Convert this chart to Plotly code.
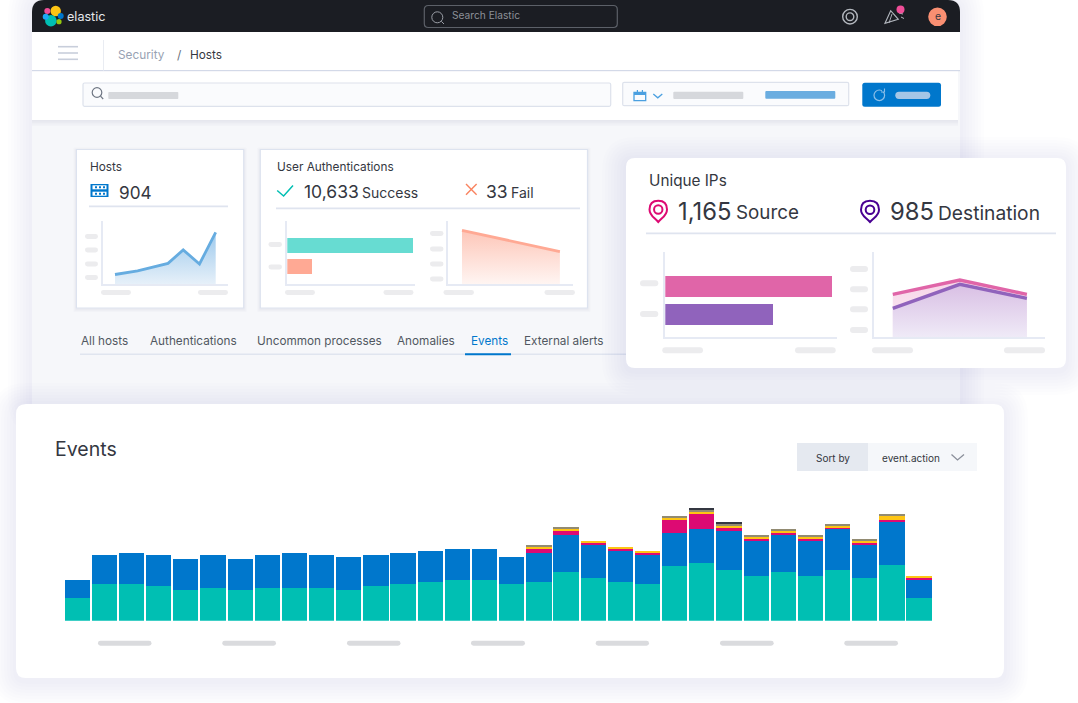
import plotly.graph_objects as go

W, H = 1078, 703
FONT = "Inter, Roboto, sans-serif"
DARK = "#343741"
AXIS = "#e6eaf4"

# ---- Events chart data (stack segments) ----
event_bins = list(range(32))
events_teal = [23, 36.7, 36.7, 34.7, 31, 33, 31, 33, 33, 33, 31, 34.7, 36.7, 38.7, 40.7, 40.7,
               36.7, 38.7, 48.3, 42.7, 38.7, 36.7, 54.3, 58, 50.3, 44.7, 48.3, 44.7, 50.3, 42.7, 56, 23]
events_blue = [17.7, 29.3, 31, 31.3, 31, 33, 31, 33, 34.7, 33, 33, 31.3, 31, 31, 31, 31,
               27.3, 29, 37, 33, 31, 29, 33, 33.3, 39, 35, 37, 35, 41, 33, 43, 17.7]
events_pink = [0]*17 + [4, 4, 2, 2, 2, 13.3, 15.3, 3.7, 2, 2, 2, 1.7, 2, 2, 2]
events_orange = [0]*17 + [2, 2, 2, 2, 2, 2, 2, 2, 2, 2, 2, 2, 2, 4, 2]
events_tan = [0]*17 + [2, 2, 0, 0, 0, 2, 2, 2, 1.7, 2, 1.7, 2, 2, 2, 0]
events_dark = [0]*23 + [2, 2, 0, 0, 0, 0, 0, 0, 0]

# ---- Small charts data ----
hosts_x = [0, 22.6, 53, 68.2, 84.5, 100.7]
hosts_y = [9.5, 13.2, 20.6, 34.1, 20, 51.7]
auth_labels = [1, 0]
auth_values = [126, 25]
auth_colors = ["#67dcd2", "#ffa994"]
fail_x = [0, 1]
fail_y = [53.7, 32.4]
ip_labels = [1, 0]
ip_values = [167, 108]
ip_colors = ["#e065a8", "#9063bc"]
ip_x = [0, 1, 2]
ip_source = [42.7, 57, 42.7]
ip_dest = [28.7, 52.7, 38.7]

# ---- Pixel helpers ----
def px(x): return x / W
def py(y): return 1 - y / H

shapes = []
annotations = []

def rrect(x0, y0, x1, y1, r=0, fill=None, line=None, lw=1, opacity=1):
    a, b, c, d = px(x0), px(x1), py(y0), py(y1)
    rx, ry = r / W, r / H
    if r:
        p = (f"M{a+rx},{c} L{b-rx},{c} Q{b},{c} {b},{c-ry} L{b},{d+ry} Q{b},{d} {b-rx},{d} "
             f"L{a+rx},{d} Q{a},{d} {a},{d+ry} L{a},{c-ry} Q{a},{c} {a+rx},{c} Z")
    else:
        p = f"M{a},{c} L{b},{c} L{b},{d} L{a},{d} Z"
    shapes.append(dict(type="path", path=p, xref="paper", yref="paper", layer="below",
                       fillcolor=fill or "rgba(0,0,0,0)", opacity=opacity,
                       line=dict(color=line or "rgba(0,0,0,0)", width=lw if line else 0)))

def poly(pts, color, lw=1.5, close=False, fill=None):
    p = "M" + " L".join(f"{px(x)},{py(y)}" for x, y in pts) + (" Z" if close else "")
    shapes.append(dict(type="path", path=p, xref="paper", yref="paper", layer="below",
                       fillcolor=fill or "rgba(0,0,0,0)", line=dict(color=color, width=lw)))

def circle(cx, cy, r, fill=None, line=None, lw=1):
    shapes.append(dict(type="circle", xref="paper", yref="paper", layer="below",
                       x0=px(cx-r), x1=px(cx+r), y0=py(cy+r), y1=py(cy-r),
                       fillcolor=fill or "rgba(0,0,0,0)",
                       line=dict(color=line or "rgba(0,0,0,0)", width=lw if line else 0)))

def pill(x0, x1, yc, h=6, c="#ececee"):
    rrect(x0, yc-h/2, x1, yc+h/2, r=h/2-0.01, fill=c)

def shadow(x0, y0, x1, y1, r, n=8, step=3, dy=3, a=0.007):
    for i in range(n, 0, -1):
        s = i * step
        rrect(x0-s, y0-s+dy, x1+s, y1+s+dy, r=r+s, fill=f"rgba(50,60,90,{a})")

def text(x, y, s, size=12.5, color=DARK, anchor="left", weight=400):
    annotations.append(dict(x=px(x - (1 if anchor == "left" else 0)), y=py(y), xref="paper", yref="paper",
                            text=s, showarrow=False, xanchor=anchor, yanchor="middle", borderpad=0,
                            font=dict(family=FONT, size=size, color=color, weight=weight)))

def pin(x0, x1, y0, y1, color):
    cx, w = (x0+x1)/2, (x1-x0)/2
    cy = y0 + w
    p = (f"M{px(cx)},{py(y1)} C{px(cx-w*0.5)},{py(y1-5)} {px(x0)},{py(cy+6)} {px(x0)},{py(cy)} "
         f"C{px(x0)},{py(y0+2)} {px(cx-w*0.55)},{py(y0)} {px(cx)},{py(y0)} "
         f"C{px(cx+w*0.55)},{py(y0)} {px(x1)},{py(y0+2)} {px(x1)},{py(cy)} "
         f"C{px(x1)},{py(cy+6)} {px(cx+w*0.5)},{py(y1-5)} {px(cx)},{py(y1)} Z")
    shapes.append(dict(type="path", path=p, xref="paper", yref="paper", layer="below",
                       fillcolor="rgba(0,0,0,0)", line=dict(color=color, width=2)))
    circle(cx, cy, w*0.48, line=color, lw=2)

# ---- App window ----
shadow(32, 0, 960, 410, 12, n=8, step=3, dy=2, a=0.006)
rrect(32, 0, 960, 420, r=12, fill="#f6f7fa")
rrect(32, 0, 960, 32, r=12, fill="#1b1d23")
rrect(32, 16, 960, 32, fill="#1b1d23")
rrect(32, 32, 960, 70, fill="#ffffff")
rrect(32, 70, 960, 71.2, fill="#d3d9e8")
for i in range(4, 0, -1):
    rrect(32, 71, 958, 120+i*1.5, fill="rgba(60,70,100,0.02)")
rrect(32, 71.2, 958, 120, fill="#ffffff")

# logo
circle(55.7, 11, 5.2, fill="#fec514")
circle(50.9, 20.7, 5.8, fill="#00bfb3")
circle(47.3, 11, 3, fill="#f04e98")
circle(45.7, 16.7, 3, fill="#1ba9f5")
circle(60.7, 16, 3, fill="#0077cc")
circle(59, 21.7, 2.6, fill="#93c90e")
text(66.5, 16.5, "elastic", size=12.6, color="#e6e8ec")
# search bar in header
rrect(424.3, 5.5, 617.3, 27.5, r=4, line="#5c6068", lw=1.2)
circle(437.3, 17.3, 5.5, line="#9a9ea6", lw=1)
poly([(441.3, 21.3), (444, 24)], "#9a9ea6", lw=1)
text(452.3, 15.3, "Search Elastic", size=10.2, color="#8d9198")
# header icons
circle(850, 16.7, 7.3, line="#b3b7be", lw=1.4)
circle(850, 16.7, 3.8, line="#b3b7be", lw=1.4)
poly([(885, 23.3), (890.7, 10.7), (898.3, 19.3)], "#b3b7be", lw=1.1, close=True)
poly([(892, 14), (889, 23)], "#b3b7be", lw=0.9)
poly([(899, 13), (903, 14)], "#b3b7be", lw=1)
poly([(901, 17), (904, 18.5)], "#b3b7be", lw=1)
circle(900.5, 9.5, 4, fill="#f04e98")
circle(937.5, 16.8, 9.3, fill="#f98f72")
text(937.5, 16.5, "e", size=10.5, color=DARK, anchor="center")

# breadcrumb
for y in (46.7, 53, 59.3):
    rrect(58, y-0.8, 78, y+0.8, fill="#c8cedb")
rrect(103, 40, 103.8, 71, fill="#e4e7ef")
text(118, 54.8, "Security", size=11.8, color="#98a2b3")
text(177, 54.8, "/", size=12, color="#69707d")
text(190, 54.8, "Hosts", size=11.8, color=DARK)

# query bar
rrect(83, 83, 610.7, 106.3, r=1.5, fill="#fafbfd", line="#dde2ec", lw=1.2)
circle(97, 92.5, 4.8, line="#6f7683", lw=1.2)
poly([(100.5, 96.2), (103.2, 99)], "#6f7683", lw=1.2)
rrect(108.3, 92, 178.3, 99, r=0.8, fill="#d6d8dc")
rrect(622.7, 82.3, 848.7, 105.7, r=1.5, fill="#fafbfd", line="#dde2ec", lw=1.2)
rrect(634, 92.3, 645.7, 100.7, line="#4ba0e0", lw=1.3)
rrect(634, 92.3, 645.7, 95, fill="#4ba0e0")
rrect(636.8, 90, 638, 93, fill="#4ba0e0")
rrect(641.8, 90, 643, 93, fill="#4ba0e0")
poly([(653.3, 94), (657.8, 97.8), (662.3, 94)], "#4ba0e0", lw=1.3)
rrect(673.3, 91.7, 743.3, 99, r=1, fill="#d6d8dc")
rrect(765.3, 91, 835.3, 98.7, r=1, fill="#6aade0")
rrect(862.3, 82.7, 941, 106.7, r=2.5, fill="#0077cc")
circle(879.3, 95.3, 5.3, line="#8cbfe8", lw=1.2)
rrect(882, 88.5, 886, 92, fill="#0077cc")
poly([(884.5, 88.5), (884.5, 92), (881, 92)], "#8cbfe8", lw=1.1)
pill(895.3, 930.3, 95.3, h=7.3, c="#a5c6e6")

# summary cards
for (a, b) in [(76.4, 243.7), (260.3, 587.5)]:
    for i in range(3, 0, -1):
        rrect(a-i, 149.5-i+1, b+i, 308+i+1, r=1, fill="rgba(70,90,140,0.025)")
    rrect(a, 149.5, b, 308, fill="#ffffff", line="#dde3ef", lw=1.2)
rrect(89, 205.6, 228, 207.2, fill="#dfe4ef")
rrect(276, 207.6, 580, 209.2, fill="#dfe4ef")
text(89.5, 167, "Hosts", size=11.8)
text(118.5, 193, "904", size=17.2)
text(276.5, 167, "User Authentications", size=11.8)
text(303.5, 191.5, "10,633", size=17.5)
text(362, 192.5, "Success", size=14)
text(485.5, 191.5, "33", size=17.5)
text(510.5, 192.5, "Fail", size=14)
# server icon
rrect(90.5, 184, 108.5, 197, fill="#0077cc")
for yy in (187.3, 193.7):
    rrect(92.5, yy-2, 106.5, yy+2, fill="#ffffff")
    for xx in (96, 100, 104):
        rrect(xx-1, yy-1, xx+1, yy+1, fill="#0077cc")
# check and x
poly([(277.2, 190.5), (283.6, 196), (293, 185.6)], "#00bfb3", lw=1.5)
poly([(466, 184), (476.6, 194.8)], "#f9835f", lw=1.4)
poly([(476.6, 184), (466, 194.8)], "#f9835f", lw=1.4)
# placeholder labels
for yc in (236.5, 250, 264, 277.5):
    pill(85, 98, yc, h=5)
for xa, xb in [(101, 131), (198, 228)]:
    pill(xa, xb, 292.5, h=5)
for yc in (244.5, 267):
    pill(268.5, 282, yc, h=5)
for xa, xb in [(285, 315), (383.5, 413.5), (443.5, 474), (544.5, 575)]:
    pill(xa, xb, 292.5, h=5)
for yc in (233.5, 249, 264, 279):
    pill(430, 443.5, yc, h=5)

# tabs
for x, s, c in [(80.5, "All hosts", "#515761"), (150, "Authentications", "#515761"),
                (257, "Uncommon processes", "#515761"), (397, "Anomalies", "#515761"),
                (470.5, "Events", "#0077cc"), (524, "External alerts", "#515761")]:
    text(x, 340.8, s, size=11.75, color=c)
rrect(80, 353.4, 640, 355, fill="#e0e5ef")
rrect(465, 353.2, 511, 355.2, fill="#0077cc")

# Unique IPs card
shadow(626, 158, 1066, 368, 9, n=8, step=3, dy=3)
rrect(626, 158, 1066, 368, r=9, fill="#ffffff")
text(648.5, 180.5, "Unique IPs", size=15.3)
pin(649.5, 667, 200.7, 222, "#dd0a73")
text(677.5, 211.5, "1,165", size=23.8)
text(736, 212.5, "Source", size=18.8)
pin(861, 879, 200.7, 222, "#490092")
text(889.5, 211.5, "985", size=23.8)
text(937.5, 212.5, "Destination", size=19.2)
rrect(646, 232.5, 1056, 234.3, fill="#dfe4ef")
for yc in (283.3, 314):
    pill(640, 658.3, yc)
for xa, xb in [(662.3, 703), (795, 835.7), (872, 913), (1004, 1045)]:
    pill(xa, xb, 350.3)
for yc in (269, 289.3, 309.3, 330):
    pill(850, 868, yc)

# Events card
shadow(16, 404, 1004, 678, 10, n=8, step=3, dy=3)
rrect(16, 404, 1004, 678, r=10, fill="#ffffff")
text(54.5, 449, "Events", size=19.5)
rrect(797, 443, 868, 471, fill="#e5e9f0")
rrect(868, 443, 977, 471, fill="#f5f7fa")
text(832.5, 457.8, "Sort by", size=10, anchor="center")
text(881.5, 457.8, "event.action", size=10)
poly([(951.5, 454.5), (957.5, 460), (964, 454.5)], "#8a8f9a", lw=1.3)
for xa, xb in [(98, 151.5), (222.3, 276), (347, 400.5), (471, 525), (595.7, 649), (720, 773.7), (844.3, 898)]:
    pill(xa, xb, 643.3, h=5, c="#dadbde")

# ---- Figure ----
fig = go.Figure()

def axes(n, x0, x1, ytop, ybot, xr, yr, line=True):
    sfx = "" if n == 1 else str(n)
    base = dict(showgrid=False, zeroline=False, showticklabels=False, ticks="", fixedrange=True,
                showline=line, linecolor=AXIS, linewidth=2)
    fig.layout[f"xaxis{sfx}"] = dict(base, domain=[px(x0), px(x1)], range=xr, anchor=f"y{sfx}")
    fig.layout[f"yaxis{sfx}"] = dict(base, domain=[py(ybot), py(ytop)], range=yr, anchor=f"x{sfx}")

# Events stacked bars
for vals, col in [(events_teal, "#00bfb3"), (events_blue, "#0077cc"), (events_pink, "#dd0a73"),
                  (events_orange, "#fec514"), (events_tan, "#928b72"), (events_dark, "#343741")]:
    fig.add_bar(x=event_bins, y=vals, marker=dict(color=col, line=dict(width=0)), xaxis="x", yaxis="y")
axes(1, 63.5, 933.5, 490.7, 620.7, [-0.504, 31.53], [0, 130], line=False)

# Hosts area
fig.add_scatter(x=hosts_x, y=hosts_y, mode="lines", line=dict(color="#66ace0", width=2.8), fill="tozeroy",
                fillgradient=dict(type="vertical", colorscale=[[0, "#e6f0f9"], [1, "#9dc9ec"]]),
                xaxis="x2", yaxis="y2")
axes(2, 102.8, 228, 221, 284, [-12.2, 113], [0, 63])

# Auth bars
fig.add_bar(x=auth_values, y=auth_labels, orientation="h", width=0.714, marker=dict(color=auth_colors, line=dict(width=0)),
            xaxis="x3", yaxis="y3")
axes(3, 287.3, 414.5, 221, 284, [0, 127.2], [-0.81, 2.19])

# Fail area
fig.add_scatter(x=fail_x, y=fail_y, mode="lines", line=dict(color="#ffa994", width=2.8), fill="tozeroy",
                fillgradient=dict(type="vertical", colorscale=[[0, "#fff5f2"], [1, "#fdc6b8"]]),
                xaxis="x4", yaxis="y4")
axes(4, 447.5, 573, 221, 284, [-0.148, 1.134], [0, 63])

# IP bars
fig.add_bar(x=ip_values, y=ip_labels, orientation="h", width=0.72, marker=dict(color=ip_colors, line=dict(width=0)),
            xaxis="x5", yaxis="y5")
axes(5, 665.3, 836.5, 252, 337, [0, 171.2], [-0.78, 2.2])

# IP area
fig.add_scatter(x=ip_x, y=ip_source, mode="lines", line=dict(color="#e065a8", width=3.4), fill="tozeroy",
                fillgradient=dict(type="vertical", colorscale=[[0, "#fbeef6"], [1, "#f7d5e8"]]),
                xaxis="x6", yaxis="y6")
fig.add_scatter(x=ip_x, y=ip_dest, mode="lines", line=dict(color="#9063bc", width=3.4), fill="tozeroy",
                fillgradient=dict(type="vertical", colorscale=[[0, "#efeaf7"], [1, "#d9bfe4"]]),
                xaxis="x6", yaxis="y6")
axes(6, 874, 1045, 252, 337, [-0.28, 2.27], [0, 85])

fig.update_layout(width=W, height=H, autosize=False, margin=dict(l=0, r=0, t=0, b=0),
                  paper_bgcolor="#ffffff", plot_bgcolor="rgba(0,0,0,0)", showlegend=False,
                  barmode="stack", bargap=0.07, hovermode=False,
                  shapes=shapes, annotations=annotations, font=dict(family=FONT))

fig.write_html("out.html", config={"displayModeBar": False, "staticPlot": True},
               post_script="document.body.style.margin='0';document.body.style.overflow='hidden';")
